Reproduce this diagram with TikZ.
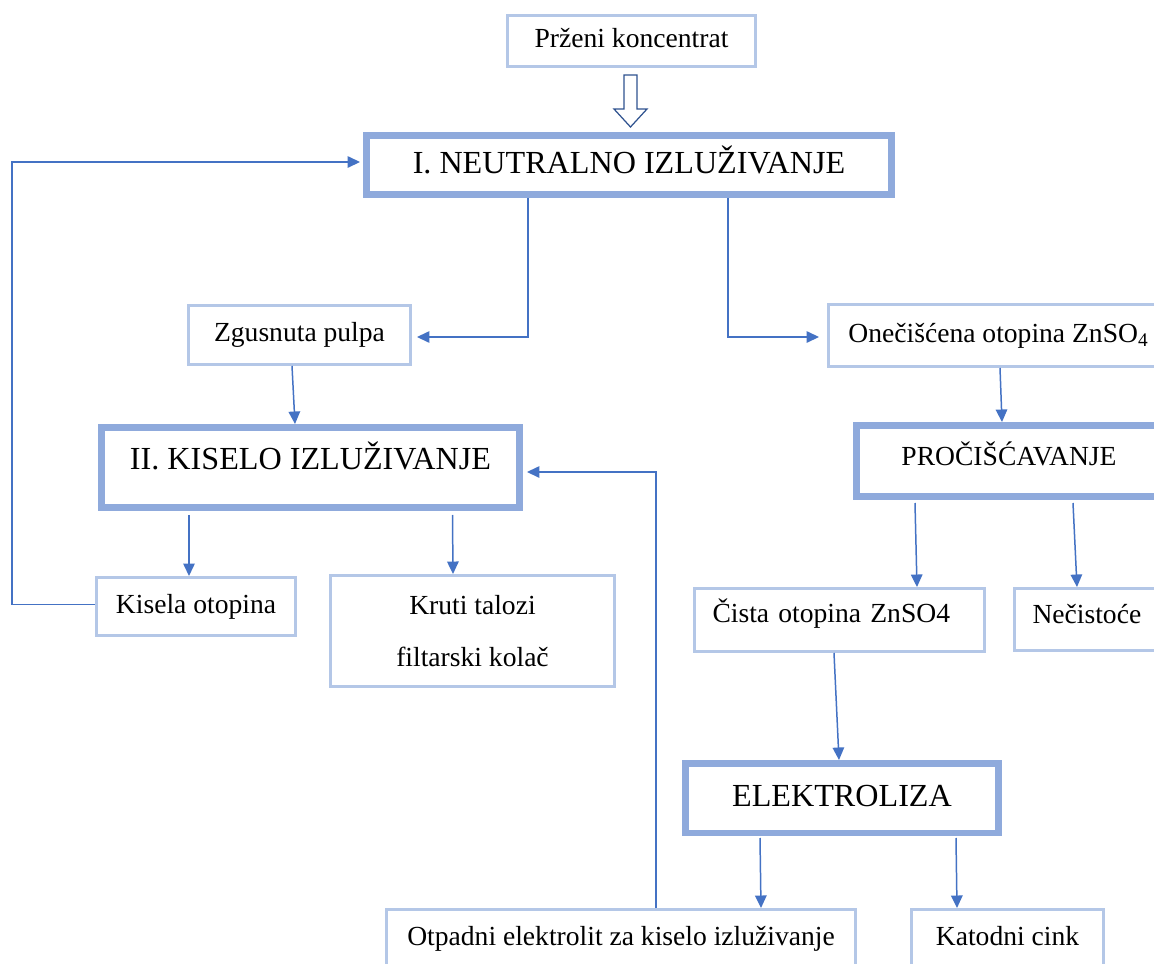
\documentclass[tikz,border=0pt]{standalone}
\usepackage{fontspec}
\setmainfont{Liberation Serif}
\usetikzlibrary{arrows.meta,calc}
\definecolor{boxblue}{HTML}{B4C7E7}
\definecolor{mainblue}{HTML}{8FAADC}
\definecolor{arrowblue}{HTML}{4472C4}
\definecolor{darkblue}{HTML}{2F528F}
\tikzset{
  box/.style 2 args={draw=boxblue,line width=1.7pt,fill=white,inner sep=0pt,
    minimum width=#1,minimum height=#2,font=\fontsize{15.7}{19}\selectfont,
    text height=11.3pt,text depth=3.5pt},
  stage/.style 2 args={box={#1}{#2},draw=mainblue,line width=3.7pt,
    font=\fontsize{18.3}{22}\selectfont,text height=13.2pt,text depth=4pt},
  flow/.style={draw=arrowblue,line width=0.85pt,-{Triangle[length=0.25cm,width=0.23cm]}}
}
\begin{document}
\begin{tikzpicture}[x=0.02cm,y=-0.02cm]
\useasboundingbox (0,0) rectangle (1154,964);
\clip (0,0) rectangle (1154,964);
\fill[white] (0,0) rectangle (1154,964);
% nodes
\node[box={4.96cm}{1.02cm}] (przeni) at (631.5,41) {Prženi koncentrat};
\node[stage={10.51cm}{1.19cm}] (neutral) at (629,165) {I. NEUTRALNO IZLUŽIVANJE};
\node[box={4.44cm}{1.18cm}] (pulpa) at (299.5,335) {Zgusnuta pulpa};
\node[box={6.8cm}{1.24cm}] (onec) at (998.5,335.5) {Onečišćena otopina ZnSO\textsubscript{4}};
\node[stage={8.37cm}{1.61cm},text depth=11.3pt] (kiselo) at (310.5,467.5) {II. KISELO IZLUŽIVANJE};
\node[stage={6.11cm}{1.43cm},font=\fontsize{15.7}{19}\selectfont,text height=11.3pt,text depth=6.6pt] (proc) at (1009,461) {PROČIŠĆAVANJE};
\node[box={3.98cm}{1.16cm}] (kisela) at (196,606.5) {Kisela otopina};
\node[box={5.68cm}{2.22cm},align=center,font=\fontsize{15.7}{29.5}\selectfont,text height={},text depth={}] (kruti) at (472.5,631) {Kruti talozi\\filtarski kolač};
\node[box={5.8cm}{1.26cm},inner xsep=0.36cm,text width=5.08cm,align=left,text depth=8.8pt] (cista) at (839.5,620) {Čista otopina ZnSO4};
\node[box={3.18cm}{1.24cm},inner xsep=0.36cm,text width=2.46cm,align=left,text depth=7.2pt] (necist) at (1094,619.5) {Nečistoće};
\node[stage={6.27cm}{1.39cm}] (elektro) at (842,798) {ELEKTROLIZA};
\node[box={9.38cm}{1.18cm}] (otpadni) at (621,939) {Otpadni elektrolit za kiselo izluživanje};
\node[box={3.84cm}{1.18cm}] (katodni) at (1007.5,939) {Katodni cink};
% hollow feed arrow
\draw[darkblue,line width=0.7pt,fill=white] ($(przeni.south)+(-7.5,7)$) -- ++(0,34) -- ++(-10,0)
  -- ++(16.5,18) -- ++(16.5,-18) -- ++(-10,0) -- ++(0,-34) -- cycle;
% connectors
\draw[flow] ($(neutral.south)+(-101,0)$) |- ($(pulpa.east)+(5,2)$);
\draw[flow] ($(neutral.south)+(99,0)$) |- ($(onec.west)+(-8,1.5)$);
\draw[flow] ($(kisela.west)+(0,-2)$) -- ++(-83,0) |- ($(neutral.west)+(-3,-3)$);
\draw[flow] ($(pulpa.south)+(-7.5,0)$) -- ($(kiselo.north)+(-15.5,0)$);
\draw[flow] ($(kiselo.south)+(-121.5,4)$) -- ($(kisela.north)+(-7,0)$);
\draw[flow] ($(kiselo.south)+(142,4)$) -- ($(kruti.north)+(-19.5,0)$);
\draw[flow] ($(onec.south)+(1.5,0)$) -- ($(proc.north)+(-7,0)$);
\draw[flow] ($(proc.south)+(-94,3)$) -- ($(cista.north)+(77.5,0)$);
\draw[flow] ($(proc.south)+(64,3)$) -- ($(necist.north)+(-17,0)$);
\draw[flow] ($(cista.south)+(-5.5,0)$) -- ($(elektro.north)+(-3,0)$);
\draw[flow] ($(elektro.south)+(-82,2)$) -- ($(otpadni.north)+(140,0)$);
\draw[flow] ($(elektro.south)+(114,2)$) -- ($(katodni.north)+(-50.5,0)$);
\draw[flow] ($(otpadni.north)+(35,0)$) |- ($(kiselo.east)+(4,4.5)$);
\end{tikzpicture}
\end{document}
